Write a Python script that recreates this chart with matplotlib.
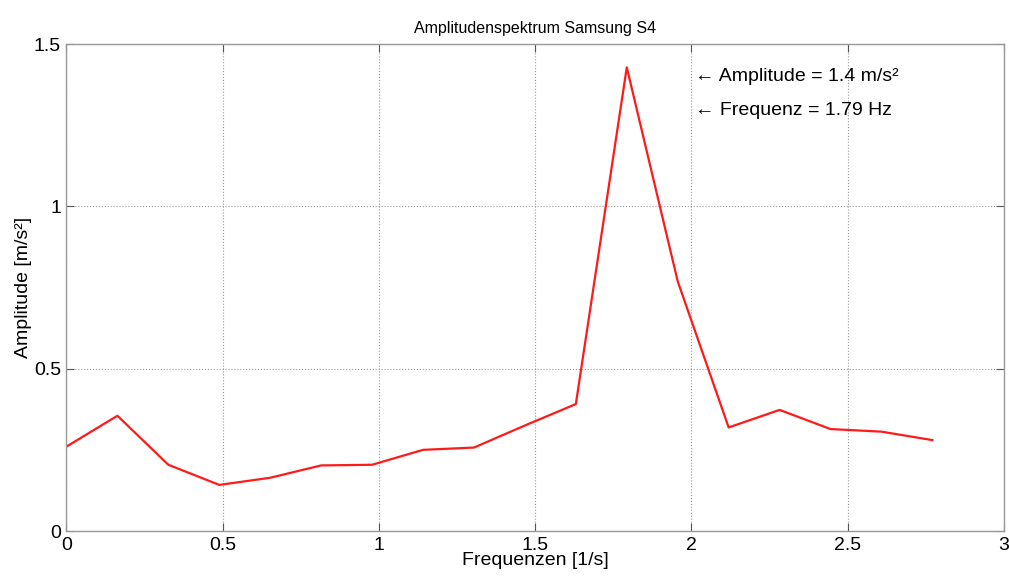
import numpy as np
import matplotlib
matplotlib.use("Agg")
import matplotlib.pyplot as plt

plt.rcParams['font.family'] = ['Liberation Sans', 'DejaVu Sans']

# spectrum values
freq = [0.0, 0.163, 0.326, 0.489, 0.652, 0.815, 0.978, 1.141, 1.304,
        1.467, 1.630, 1.793, 1.956, 2.119, 2.282, 2.445, 2.608, 2.771]
amp = [0.260, 0.355, 0.204, 0.142, 0.164, 0.202, 0.204, 0.250, 0.257,
       0.325, 0.391, 1.428, 0.769, 0.319, 0.373, 0.314, 0.306, 0.280]

xticks = [0, 0.5, 1, 1.5, 2, 2.5, 3]
xticklabels = ['0', '0.5', '1', '1.5', '2', '2.5', '3']
yticks = [0, 0.5, 1, 1.5]
yticklabels = ['0', '0.5', '1', '1.5']

fig = plt.figure(figsize=(10.09, 5.79), dpi=100)
ax = fig.add_axes([0.0659, 0.0829, 0.9291, 0.8411])

ax.plot(freq, amp, color='#ff1a1a', lw=1.6)

ax.set_xlim(0, 3)
ax.set_ylim(0, 1.5)
ax.set_xticks(xticks)
ax.set_xticklabels(xticklabels)
ax.set_yticks(yticks)
ax.set_yticklabels(yticklabels)
ax.tick_params(direction='in', length=6, width=0.8, color='#555555',
               labelsize=14, top=True, right=True, pad=4)
for s in ax.spines.values():
    s.set_color('#999999')
    s.set_linewidth(1.0)
ax.grid(True, linestyle=':', color='#999999', linewidth=0.8)

ax.set_title('Amplitudenspektrum Samsung S4', fontsize=11.5, pad=8)
ax.set_xlabel('Frequenzen [1/s]', fontsize=14, labelpad=-1)
ax.set_ylabel('Amplitude [m/s²]', fontsize=14, labelpad=1)

ax.text(2.01, 1.40, '\u2190 Amplitude = 1.4 m/s²', fontsize=14, va='center', ha='left')
ax.text(2.01, 1.295, '\u2190 Frequenz = 1.79 Hz', fontsize=14, va='center', ha='left')

fig.savefig('out.png', dpi=100)
